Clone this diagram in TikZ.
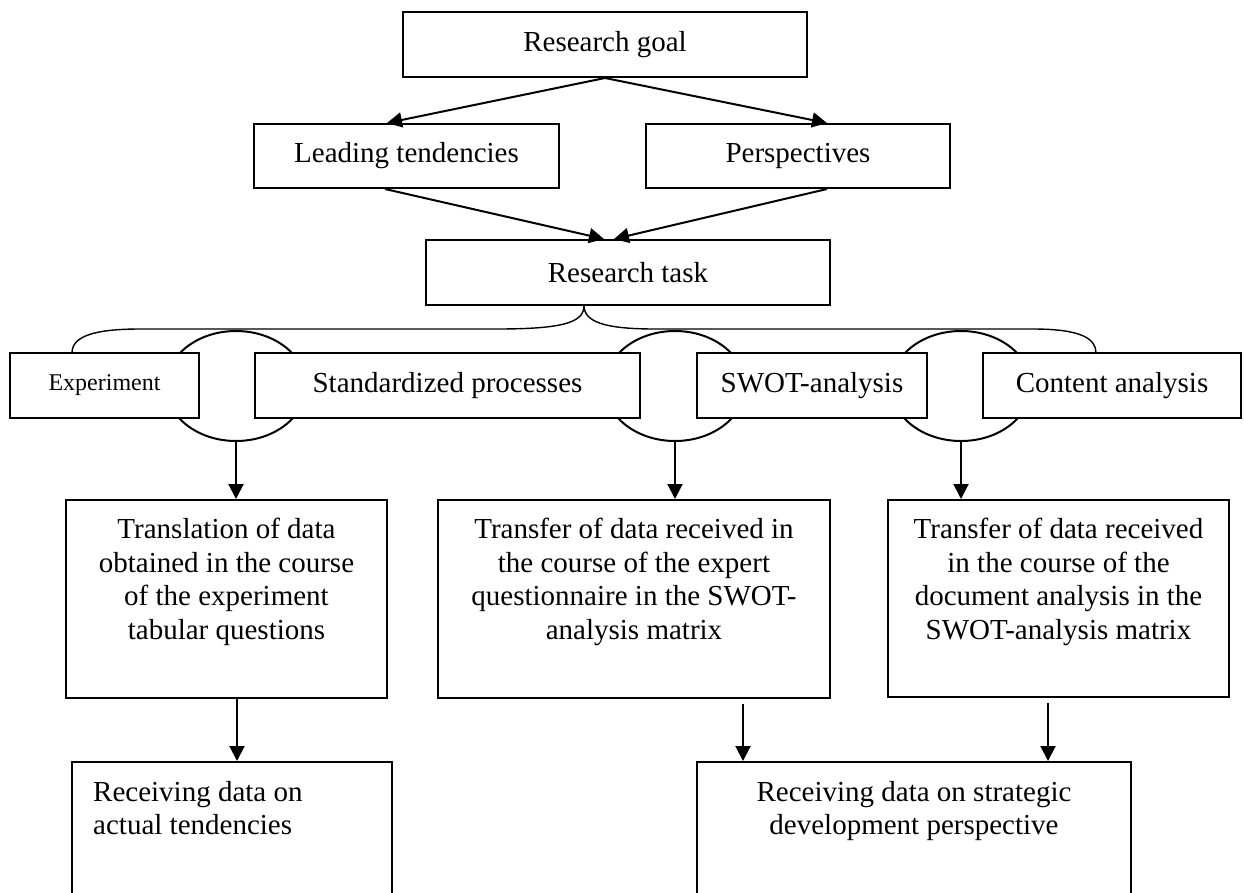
\documentclass[tikz,border=0pt]{standalone}
\usepackage{fontspec}
\setmainfont{Liberation Serif}
\usetikzlibrary{arrows.meta,shapes.geometric}
\newcommand\bigfont{\fontsize{29}{33.5}\selectfont}
\newcommand\smallfont{\fontsize{24}{28}\selectfont}
\tikzset{
  box/.style={draw, line width=2pt, fill=white, inner sep=0pt, align=center, font=\bigfont},
  txt/.style={inner sep=0pt, align=center, font=\bigfont},
  ell/.style={draw, ellipse, line width=2pt, inner sep=0pt, minimum width=140pt, minimum height=110pt},
  arr/.style={line width=2pt, -{Triangle[length=15pt,width=15pt]}},
  brace/.style={line width=1.4pt},
}
\begin{document}
\begin{tikzpicture}[x=1pt, y=-1pt]
\useasboundingbox (0,0) rectangle (1244,892);
% top part
\node[box, minimum width=404pt, minimum height=65pt] (goal) at (605,44.5) {Research goal};
\node[box, minimum width=305pt, minimum height=64pt] (lead) at (406.5,156) {Leading tendencies};
\node[box, minimum width=304pt, minimum height=64pt] (persp) at (798,156) {Perspectives};
\node[box, minimum width=404pt, minimum height=65pt] (task) at (628,272.5) {Research task};
\draw[arr] (goal.south) -- ([xshift=-19.5pt]lead.north);
\draw[arr] (goal.south) -- ([xshift=29pt]persp.north);
\draw[arr] ([xshift=-21.5pt]lead.south) -- ([xshift=-24pt]task.north);
\draw[arr] ([xshift=29pt]persp.south) -- ([xshift=-14pt]task.north);
% ellipses behind the method boxes
\node[ell] (e1) at (236,386) {};
\node[ell] (e2) at (675,386) {};
\node[ell] (e3) at (961,386) {};
% method boxes
\node[box, minimum width=189pt, minimum height=65pt] (exp) at (104.5,385.5) {\smallfont\raisebox{5pt}{Experiment}};
\node[box, minimum width=385pt, minimum height=65pt] (std) at (447.5,385.5) {Standardized processes};
\node[box, minimum width=230pt, minimum height=65pt] (swot) at (812,385.5) {SWOT-analysis};
\node[box, minimum width=258pt, minimum height=65pt] (cont) at (1112,385.5) {Content analysis};
% brace
\coordinate (bt) at (584,305.5);
\coordinate (bl) at (72,353);
\coordinate (br) at (1096,353);
\draw[brace] (bt) .. controls (584,322) and (565,329) .. (497,329) -- (140,329)
  .. controls (92,329) and (72,337) .. (bl);
\draw[brace] (bt) .. controls (584,322) and (605,329) .. (655,329) -- (1033,329)
  .. controls (1082,329) and (1096,339) .. (br);
% middle boxes
\node[box, minimum width=321pt, minimum height=198pt] (tr) at (226.5,599) {};
\node[box, minimum width=392pt, minimum height=198pt] (tm) at (634,599) {};
\node[box, minimum width=341pt, minimum height=197pt] (tx) at (1058.5,598.5) {};
\node[txt, anchor=north] (trt) at (226.5,518) {Translation of data\\obtained in the course\\of the experiment\\tabular questions};
\node[txt, anchor=north] (tmt) at (634,518) {Transfer of data received in\\the course of the expert\\questionnaire in the SWOT-\\analysis matrix};
\node[txt, anchor=north] (txt3) at (1058.5,518) {Transfer of data received\\in the course of the\\document analysis in the\\SWOT-analysis matrix};
\draw[arr] (e1.south) -- (e1.south |- tr.north);
\draw[arr] (e2.south) -- (e2.south |- tm.north);
\draw[arr] (e3.south) -- (e3.south |- tx.north);
% bottom boxes
\node[box, minimum width=320pt, minimum height=160pt] (bl1) at (232,842) {};
\node[box, minimum width=434pt, minimum height=160pt] (br1) at (914,842) {};
\node[txt, anchor=north west, align=left] (blt) at (93,781) {Receiving data on\\actual tendencies};
\node[txt, anchor=north] (brt) at (914,781) {Receiving data on strategic\\development perspective};
\draw[arr] ([xshift=10.5pt]tr.south) -- ([xshift=10.5pt]tr.south |- bl1.north);
\coordinate (m1) at ([yshift=-5pt]tm.south -| 743,0);
\coordinate (m2) at ([yshift=-5pt]tx.south -| 1048,0);
\draw[arr] (m1) -- (m1 |- br1.north);
\draw[arr] (m2) -- (m2 |- br1.north);
\end{tikzpicture}
\end{document}
